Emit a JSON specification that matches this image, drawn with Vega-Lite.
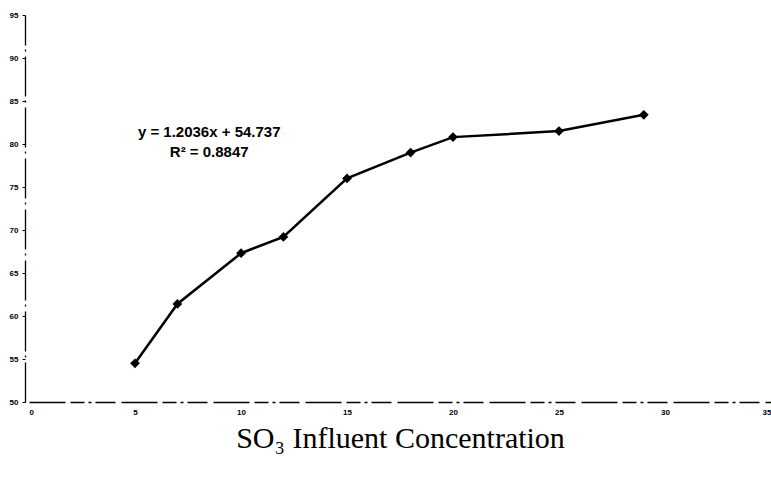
{
  "$schema": "https://vega.github.io/schema/vega-lite/v6.json",
  "width": 742,
  "height": 387,
  "autosize": {"type": "none"},
  "padding": {"left": 29, "top": 15, "right": 0, "bottom": 78},
  "background": "white",
  "config": {"view": {"stroke": null}, "font": "Liberation Sans"},
  "data": {
    "values": [
      {"conc": 5, "removal": 54.5},
      {"conc": 7, "removal": 61.4},
      {"conc": 10, "removal": 67.3},
      {"conc": 12, "removal": 69.2},
      {"conc": 15, "removal": 76.0},
      {"conc": 18, "removal": 79.0},
      {"conc": 20, "removal": 80.8},
      {"conc": 25, "removal": 81.5},
      {"conc": 29, "removal": 83.4}
    ]
  },
  "layer": [
    {
      "encoding": {
        "x": {
          "field": "conc",
          "type": "quantitative",
          "scale": {"domain": [0, 35], "nice": false, "zero": false},
          "axis": {
            "values": [0, 5, 10, 15, 20, 25, 30, 35],
            "grid": false,
            "ticks": false,
            "labelPadding": 6,
            "labelFontSize": 8,
            "labelFontWeight": "bold",
            "labelColor": "black",
            "labelFlush": true,
            "domainColor": "black",
            "domainWidth": 1.3,
            "domainDash": [36, 5, 14, 4, 3, 4, 20, 6],
            "title": "SO₃ Influent Concentration",
            "titleFont": "Liberation Serif",
            "titleFontSize": 30,
            "titleFontWeight": "normal",
            "titleColor": "black",
            "titlePadding": 7
          }
        },
        "y": {
          "field": "removal",
          "type": "quantitative",
          "scale": {"domain": [50, 95], "nice": false, "zero": false},
          "axis": {
            "values": [50, 55, 60, 65, 70, 75, 80, 85, 90, 95],
            "grid": false,
            "offset": 4,
            "tickSize": 3,
            "tickColor": "black",
            "labelPadding": 4,
            "labelFontSize": 8,
            "labelFontWeight": "bold",
            "labelColor": "black",
            "domainColor": "black",
            "domainWidth": 1.3,
            "domainDash": [40, 5, 2, 4],
            "title": null
          }
        }
      },
      "layer": [
        {"mark": {"type": "line", "color": "black", "strokeWidth": 2.5}},
        {"mark": {"type": "point", "shape": "diamond", "filled": true, "color": "black", "size": 95, "opacity": 1}}
      ]
    },
    {
      "data": {"values": [{"label": "y = 1.2036x + 54.737\nR² = 0.8847"}]},
      "mark": {"type": "text", "lineBreak": "\n", "align": "center", "baseline": "middle", "fontSize": 15, "fontWeight": "bold", "color": "black", "lineHeight": 20},
      "encoding": {
        "x": {"datum": 8.5},
        "y": {"datum": 81.4},
        "text": {"field": "label"}
      }
    }
  ]
}
